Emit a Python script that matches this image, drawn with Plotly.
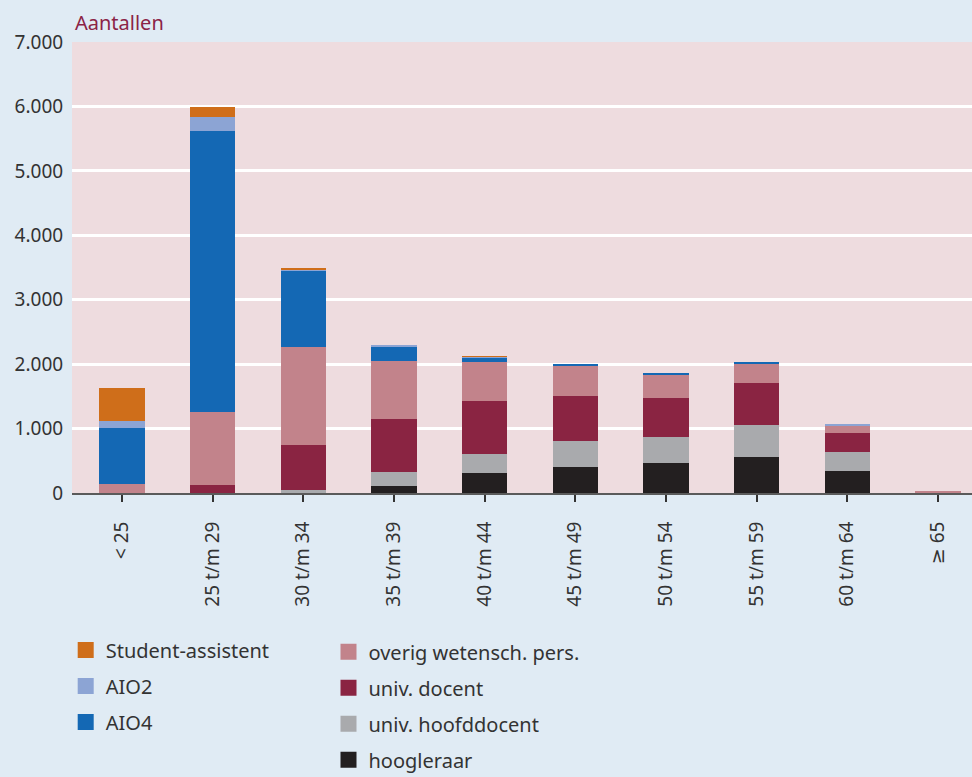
import plotly.graph_objects as go

categories = ["< 25", "25 t/m 29", "30 t/m 34", "35 t/m 39", "40 t/m 44",
              "45 t/m 49", "50 t/m 54", "55 t/m 59", "60 t/m 64", "≥ 65"]

hoogleraar = [0, 0, 5, 110, 310, 405, 465, 560, 340, 0]
hoofddocent = [0, 0, 42, 215, 295, 400, 405, 495, 295, 0]
univ_docent = [0, 124, 697, 822, 821, 700, 603, 650, 295, 12]
overig = [140, 1132, 1520, 900, 605, 470, 372, 311, 124, 18]
aio4 = [868, 4356, 1178, 232, 78, 31, 15, 15, 0, 0]
aio2 = [108, 217, 31, 16, 5, 0, 0, 0, 16, 0]
student = [512, 155, 15, 0, 10, 0, 0, 0, 0, 0]

series = [
    ("hoogleraar", hoogleraar, "#231f20", "legend2"),
    ("univ. hoofddocent", hoofddocent, "#a9aaad", "legend2"),
    ("univ. docent", univ_docent, "#8a2442", "legend2"),
    ("overig wetensch. pers.", overig, "#c2838b", "legend2"),
    ("AIO4", aio4, "#1468b4", "legend"),
    ("AIO2", aio2, "#8ca4d4", "legend"),
    ("Student-assistent", student, "#cf6e1a", "legend"),
]

legend_order = ["Student-assistent", "AIO2", "AIO4",
                "overig wetensch. pers.", "univ. docent", "univ. hoofddocent", "hoogleraar"]

fig = go.Figure()
for name, vals, color, lg in series:
    fig.add_trace(go.Bar(x=categories, y=vals, name=name, marker_color=color,
                         marker_line_width=0, width=0.5, showlegend=False))

color_of = {s[0]: s[2] for s in series}
legend_of = {s[0]: s[3] for s in series}
for name in legend_order:
    fig.add_trace(go.Scatter(x=[None], y=[None], mode="markers", name=name,
                             marker=dict(symbol="square", size=20, color=color_of[name]),
                             legend=legend_of[name], legendgroup=name, showlegend=True))

font_family = "Noto Sans, DejaVu Sans, sans-serif"
legend_common = dict(xref="paper", yref="paper", xanchor="left", yanchor="top",
                     orientation="v", bgcolor="rgba(0,0,0,0)",
                     font=dict(size=20, color="#333333", family=font_family),
                     traceorder="grouped", itemclick=False)

fig.update_layout(
    width=972, height=777,
    barmode="stack",
    separators=",.",
    paper_bgcolor="#e0ebf4",
    plot_bgcolor="#eedcdf",
    margin=dict(l=72, r=0, t=42, b=284, autoexpand=False),
    font=dict(family=font_family, size=19, color="#333333"),
    legend=dict(x=-0.007, y=-0.305, tracegroupgap=7, **legend_common),
    legend2=dict(x=0.285, y=-0.309, tracegroupgap=7, **legend_common),
    xaxis=dict(
        range=[-0.55, 9.375], tickangle=-90, showline=True, linecolor="#5a5a5a",
        linewidth=2, ticks="outside", ticklen=7, tickwidth=1.5, tickcolor="#333333",
        ticklabelstandoff=12,
        tickfont=dict(size=19, color="#333333"), showgrid=False, automargin=False,
    ),
    yaxis=dict(
        range=[0, 7000], dtick=1000, tickformat=",d", showgrid=True,
        gridcolor="#ffffff", gridwidth=3, zeroline=False, showline=False,
        ticks="outside", ticklen=4, tickcolor="rgba(0,0,0,0)",
        tickfont=dict(size=19, color="#333333"), automargin=False,
    ),
    annotations=[dict(text="Aantallen", xref="paper", yref="paper", x=0, y=1,
                      xanchor="left", yanchor="bottom", xshift=1, yshift=4,
                      showarrow=False, font=dict(size=20, color="#8b2346"))],
)

fig.write_html("out.html", config={"displayModeBar": False},
               post_script="document.body.style.margin='0';")
